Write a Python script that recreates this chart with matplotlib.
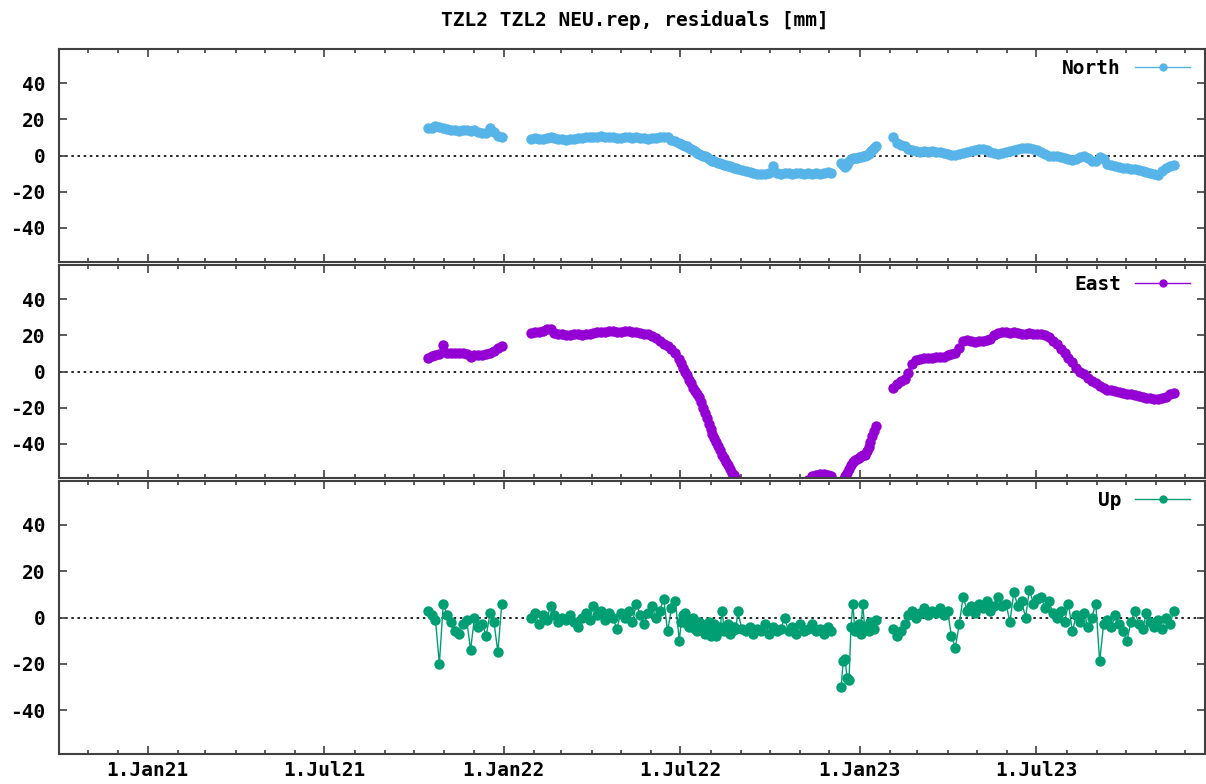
import datetime as dt
import numpy as np
import matplotlib
matplotlib.use('Agg')
import matplotlib.pyplot as plt
import matplotlib.dates as mdates
from matplotlib.ticker import FuncFormatter

plt.rcParams['font.family'] = ['DejaVu Sans Mono', 'DejaVu Sans']
plt.rcParams['font.weight'] = 'bold'
plt.rcParams['axes.unicode_minus'] = False

# observation epochs, days after 1 Jan 2021, one list per data block
days_1 = [287, 291, 295, 299, 303, 307, 311, 315, 319, 323, 327, 331, 335, 339, 343,
          347, 351, 355, 359, 363]
days_2 = [393, 397, 401, 405, 409, 413, 417, 421, 425, 429, 433, 437, 441, 445, 449,
          453, 457, 461, 465, 469, 473, 477, 481, 485, 489, 493, 497, 501, 505, 509,
          513, 517, 521, 525, 529, 533, 537, 541, 545, 549, 553, 557, 561, 565, 569,
          573, 577, 581, 585, 589, 593, 597, 601, 605, 609, 613, 617, 621, 625, 629,
          633, 637, 641, 645, 649, 653, 657, 661, 665, 669, 673, 677, 681, 685, 689,
          693, 697, 701]
days_3 = [711, 715, 719, 723, 727, 731, 735, 739, 743, 747]
days_4 = [764, 768, 772, 776, 780, 784, 788, 792, 796, 800, 804, 808, 812, 816, 820,
          824, 828, 832, 836, 840, 844, 848, 852, 856, 860, 864, 868, 872, 876, 880,
          884, 888, 892, 896, 900, 904, 908, 912, 916, 920, 924, 928, 932, 936, 940,
          944, 948, 952, 956, 960, 964, 968, 972, 976, 980, 984, 988, 992, 996, 1000,
          1004, 1008, 1012, 1016, 1020, 1024, 1028, 1032, 1036, 1040, 1044, 1048, 1052]
# extra epochs read where the East curve is steep
days_2x = [547, 551, 555, 559, 563, 567, 571, 575, 579, 583, 587, 591, 595, 599, 603]
days_3x = [713, 717, 721, 725, 729, 733, 737, 741, 745]

# residuals [mm]
north_1 = [15, 15.5, 16.5, 16, 15, 14.5, 14, 14, 13.5, 14, 14, 13.5, 14, 13, 12.5,
           12.5, 15.5, 13, 11, 10]
north_2 = [9, 9.5, 9, 9, 9.5, 10, 9.5, 9, 9, 8.5, 9, 9, 9.5, 9.5, 10, 10, 10, 10.5,
           11, 10.5, 10, 10, 9.5, 9.5, 10, 10, 9.5, 10, 9.5, 9.5, 9, 9.5, 9.5, 10, 10.5,
           10, 8.5, 8, 7, 6, 5, 3.5, 2.5, 1, 0, -1, -2.5, -3, -4, -4.5, -5.5, -6, -7,
           -7.5, -8, -8.5, -9, -9.5, -10, -10.5, -10, -9.5, -6, -9.5, -10, -9.5, -9.5,
           -10, -9.5, -9.5, -10, -9.5, -10, -9.5, -10, -9.5, -9, -9.5]
north_2x = [6.5, 5.5, 4, 3, 1.5, 0.5, -0.5, -2, -3, -3.5, -4, -5, -6, -6.5, -7]
north_3 = [-4, -6.5, -3, -1.5, -1.5, -1, 0, 1, 3, 5]
north_3x = [-5.5, -5, -2, -1.5, -1, -0.5, 0.5, 2, 4]
north_4 = [10, 7, 6, 5, 3.5, 3, 2.5, 2, 2.5, 2, 2.5, 2, 2, 1.5, 1, 0.5, 0.5, 1, 1.5, 2,
           2.5, 3, 3.5, 3.5, 3, 2, 1.5, 1, 1.5, 2, 2.5, 3, 3.5, 4, 4, 4, 3.5, 3, 2, 1,
           0, 0, -0.5, -1, -1.5, -2, -2.5, -2, -1, 0, -1.5, -3, -3, -1, -2, -4.5, -5.5,
           -6, -6.5, -7, -7, -7.5, -7.5, -8, -8.5, -9, -9.5, -10, -11, -8.5, -7, -6, -5]

east_1 = [7.5, 8.5, 9, 9.5, 14.5, 10, 10, 10, 10, 10, 9.5, 8, 9, 9, 9, 9.5, 10, 11.5,
          13, 14]
east_2 = [21.5, 22, 22, 22.5, 23.5, 23.5, 21.5, 20.5, 20.5, 20, 20, 20.5, 20.5, 20,
          20.5, 21, 21.5, 22, 22, 22, 22.5, 22.5, 22, 22, 22.5, 22.5, 22, 22, 21.5, 21,
          20.5, 19.5, 18.5, 17, 15.5, 14, 12.5, 10.5, 7, 2, -2, -6.5, -11, -14, -20,
          -26, -32, -37, -41, -46, -50, -54, -57.5,
          -61, -64, -67, -70, -72, -74, -75, -76, -76, -76, -75, -74, -72, -70, -68,
          -66, -64, -62, -60,
          -58, -57.5, -57, -57, -57.5, -58]
east_2x = [4.5, 0, -4.5, -9, -12.5, -17, -23, -29, -34.5, -39, -43.5, -48, -52, -56,
           -59.5]
east_3 = [-62, -58, -54, -50, -48.5, -47, -46, -42, -36, -30]
east_3x = [-60, -56, -52, -49, -48, -46.5, -44, -39, -33]
east_4 = [-9, -7, -5.5, -4, -1, 4, 6.5, 7, 7.5, 7.5, 7.5, 8, 8, 8, 9, 9.5, 10, 13, 17,
          17.5, 17, 16.5, 17, 17, 17.5, 18, 20, 21.5, 22, 22, 21.5, 22, 21.5, 21, 21,
          21.5, 21, 21, 20.5, 20, 19, 17, 15, 12.5, 10.5, 7.5, 5, 2, 0, -1.5, -3.5, -5,
          -6.5, -8, -9, -10, -10.5, -11, -11.5, -12, -12.5, -12.5, -13, -13.5, -14,
          -14.5, -14.5, -15, -15, -14.5, -14, -12.5, -12]

up_1 = [3, 1, -1, -20, 6, 1, -2, -6, -7, -3, -1, -14, 0, -4, -3, -8, 2, -2, -15, 6]
up_2 = [0, 2, -3, 1, -1, 5, 1, -2, 0, -1, 1, -2, -4, 0, 2, -1, 5, 1, 3, -1,
        2, 0, -5, 2, 0, 3, -2, 6, 1, -3, 2, 5, 0, 3, 8, -6, 4, 7, -10, 1,
        -3, -1, -5, -2, -6, -4, -8, -3, -6, 3, -5, -7, -4, 3, -5, -6, -4, -7, -5, -6,
        -3, -7, -4, -6, -5, 0, -6, -4, -7, -3, -6, -5, -3, -6, -5, -7, -4, -6]
up_2x = [-2, 2, -4, 0, -6, -3, -7, -2, -5, -8, -4, -6, -3, -6, -5]
up_3 = [-30, -18, -27, 6, -5, -7, -4, -6, -4, -1]
up_3x = [-19, -26, -4, -6, -3, 6, -5, -2, -5]
up_4 = [-5, -8, -6, -3, 1, 3, 0, 2, 4, 1, 3, 2, 4, 1, 3, -8, -13, -3, 9, 3,
        5, 2, 6, 4, 7, 3, 5, 9, 5, 6, -2, 11, 5, 7, 0, 12, 6, 8, 9, 4,
        7, 2, 0, 3, -2, 6, -6, 1, -2, 2, -4, 0, 6, -19, -3, -1, -4, 1, -3, -6,
        -10, -2, 3, -3, -5, 2, -2, -4, -1, -5, 0, -3, 3]

components = ['North', 'East', 'Up']
colors = ['#56b4e9', '#9400d3', '#009e73']
day_blocks = [(days_1, []), (days_2, days_2x), (days_3, days_3x), (days_4, [])]
blocks = {
    'North': [(north_1, []), (north_2, north_2x), (north_3, north_3x), (north_4, [])],
    'East': [(east_1, []), (east_2, east_2x), (east_3, east_3x), (east_4, [])],
    'Up': [(up_1, []), (up_2, up_2x), (up_3, up_3x), (up_4, [])],
}


def join_blocks(value_blocks):
    # merge the epochs of each block, a NaN between blocks breaks the line
    base = dt.datetime(2021, 1, 1)
    xs, ys = [], []
    for (days, extra_days), (vals, extra_vals) in zip(day_blocks, value_blocks):
        if len(days) != len(vals) or len(extra_days) != len(extra_vals):
            raise ValueError('length mismatch')
        pts = sorted(zip(days + extra_days, vals + extra_vals))
        if xs:
            xs.append(xs[-1])
            ys.append(np.nan)
        xs += [base + dt.timedelta(days=d) for d, v in pts]
        ys += [v for d, v in pts]
    return xs, ys


def date_label(v, pos):
    d = mdates.num2date(v)
    return '%d.%s' % (d.day, d.strftime('%b%y'))


fig = plt.figure(figsize=(12.06, 7.84), dpi=100)
W, H = 1206.0, 784.0
left, right = 58.5 / W, 1205.0 / W
# (top px, bottom px) of each panel
panel_px = [(49, 262), (265, 478), (481, 754)]
frame_col = '#404040'

for i, name in enumerate(components):
    top, bot = panel_px[i]
    ax = fig.add_axes([left, 1 - bot / H, right - left, (bot - top) / H])
    ax.axhline(0, color='black', lw=1.2, ls=(0, (1.5, 2.2)), zorder=1)
    x, y = join_blocks(blocks[name])
    ax.plot(x, y, color=colors[i], lw=1, marker='o', ms=7.5, mew=0,
            label=name, zorder=2)

    ax.set_xlim(dt.datetime(2020, 10, 1, 12), dt.datetime(2023, 12, 21))
    ax.set_ylim(-59, 59)
    ax.set_yticks([-40, -20, 0, 20, 40])
    ax.xaxis.set_major_locator(mdates.MonthLocator(bymonth=[1, 7]))
    ax.xaxis.set_minor_locator(mdates.MonthLocator())
    ax.xaxis.set_major_formatter(FuncFormatter(date_label))
    ax.tick_params(which='both', direction='in', top=True, right=True,
                   color=frame_col, width=1.2, labelsize=14)
    ax.tick_params(which='major', length=6)
    ax.tick_params(which='minor', length=3)
    ax.tick_params(axis='y', pad=9.5)
    ax.tick_params(axis='x', pad=5)
    if i < 2:
        ax.tick_params(axis='x', labelbottom=False)
    for s in ax.spines.values():
        s.set_color(frame_col)
        s.set_linewidth(1.5)

    ytop = 1 - 2.5 / (bot - top)
    leg = ax.legend(loc='upper right', bbox_to_anchor=(0.994, ytop), borderaxespad=0,
                    frameon=False, markerfirst=False, fontsize=14, handlelength=2.84,
                    handletextpad=0.72)
    for h in leg.legend_handles:
        h.set_markersize(6)

fig.text(635 / W, 1 - 20 / H, 'TZL2 TZL2 NEU.rep, residuals [mm]', ha='center',
         va='center', fontsize=14)

fig.savefig('out.png', dpi=100)
